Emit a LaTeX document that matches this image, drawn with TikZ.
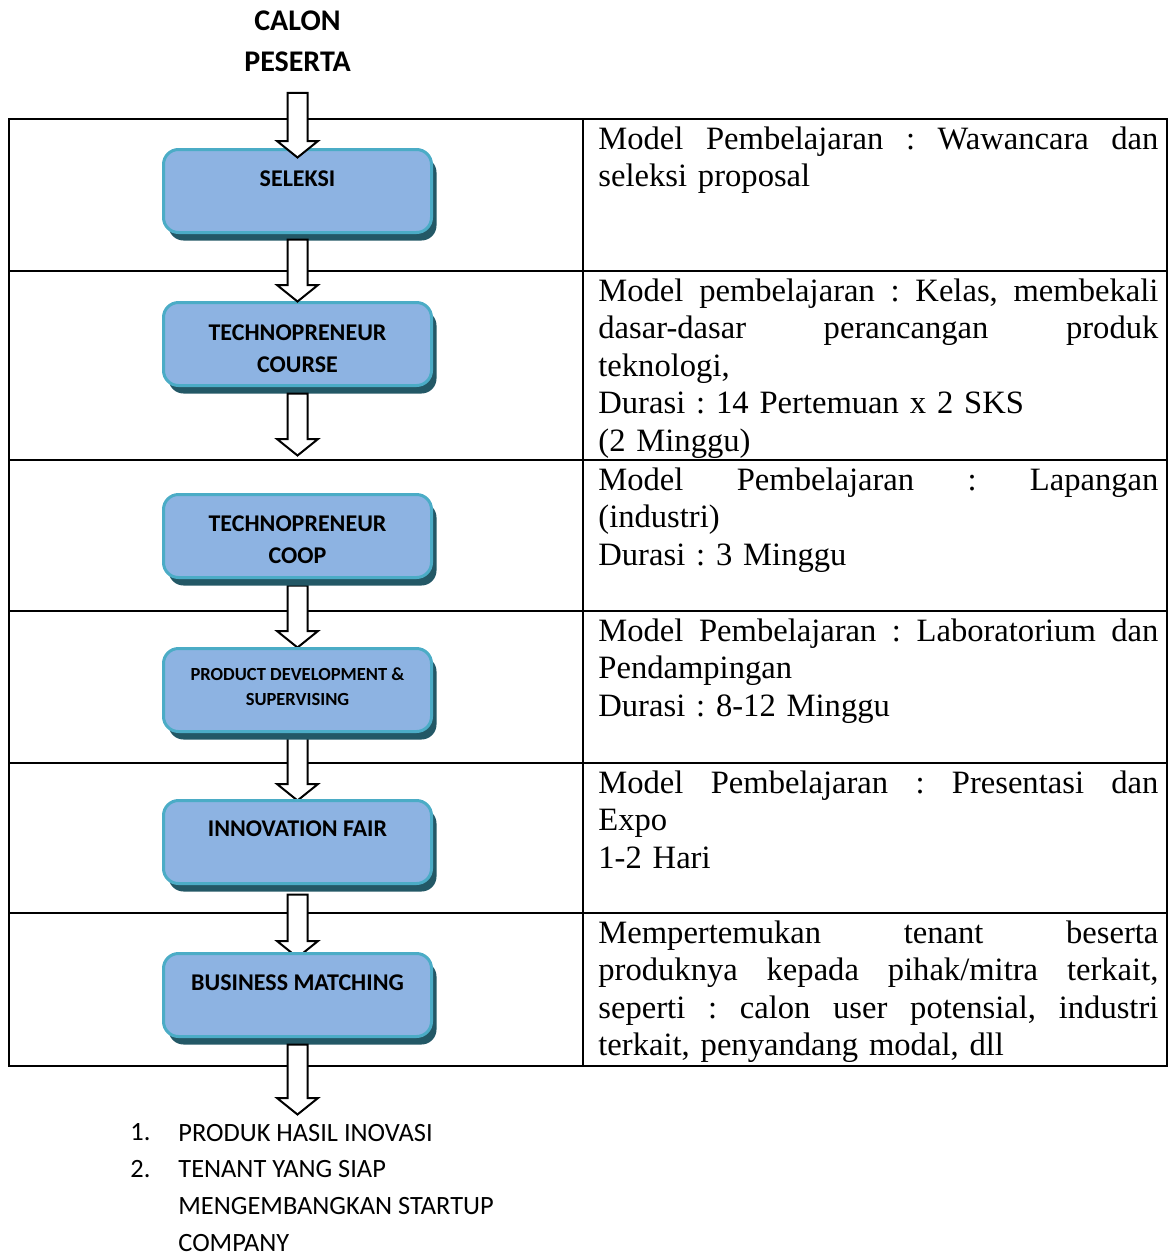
\documentclass[tikz,border=0pt]{standalone}
\usepackage{fontspec}
\setmainfont{Liberation Serif}
\newfontfamily\calibri{Carlito}
\usepackage{tikz}
\usetikzlibrary{calc,shadows}

\definecolor{boxfill}{RGB}{141,179,226}
\definecolor{boxline}{RGB}{75,172,198}
\definecolor{boxshade}{RGB}{35,88,102}

\pgfdeclarelayer{lines}
\pgfdeclarelayer{under}
\pgfsetlayers{lines,under,main}

% one justified line of the right column
\newcommand{\jl}[1]{{\spaceskip=0.25em plus 10em\makebox[280pt][s]{#1}}}
% hollow block arrow from #1 down to the tip #2
\newcommand{\flowarrow}[2]{%
    \draw[bigarrow] let \p1=#1, \p2=#2 in
        (\x1-5pt,\y1) -- (\x1+5pt,\y1) -- (\x1+5pt,\y2+8.25pt) -- (\x1+10.25pt,\y2+8.25pt)
        -- (\x1,\y2) -- (\x1-10.25pt,\y2+8.25pt) -- (\x1-5pt,\y2+8.25pt) -- cycle;
}

\begin{document}
\begin{tikzpicture}[x=0.5pt,y=-0.5pt,
    box/.style={draw=boxline, line width=1.5pt, fill=boxfill, rounded corners=7.5pt,
        minimum width=134pt, minimum height=41.5pt, inner sep=0pt,
        drop shadow={shadow xshift=2.5pt, shadow yshift=-4pt, fill=boxshade, opacity=1}},
    boxlabel/.style={inner sep=0pt, align=center, font=\calibri\bfseries\fontsize{12}{16}\selectfont},
    desc/.style={anchor=north west, inner sep=0pt, text width=280pt, align=left,
        font=\fontsize{16.3}{18.75}\selectfont\frenchspacing},
    listtext/.style={anchor=north west, inner sep=0pt, align=left,
        font=\calibri\fontsize{13.2}{18.5}\selectfont},
    bigarrow/.style={draw=black, fill=white, line width=1pt, line join=miter},
    tableline/.style={line width=1pt}]
    \useasboundingbox (0,0) rectangle (1168,1254);

    % Title
    \node[inner sep=0pt, align=center, font=\calibri\bfseries\fontsize{15}{20.5}\selectfont]
        (calon) at (297.5,41) {CALON\\PESERTA};

    % Table
    \begin{pgfonlayer}{lines}
        \draw[tableline] (9,119) rectangle (1167,1066);
        \draw[tableline] (583,119) -- (583,1066);
        \foreach \y in {271,460,611,763,913} {
            \draw[tableline] (9,\y) -- (1167,\y);
        }
    \end{pgfonlayer}

    % Steps
    \node[box] (seleksi) at (297.5,191) {};
    \node[box] (course) at (297.5,344) {};
    \node[box] (coop) at (297.5,536) {};
    \node[box] (product) at (297.5,690) {};
    \node[box] (fair) at (297.5,842) {};
    \node[box] (matching) at (297.5,995) {};

    \node[boxlabel] (seleksitxt) at (297.5,179) {SELEKSI};
    \node[boxlabel] (coursetxt) at (297.5,349) {TECHNOPRENEUR\\COURSE};
    \node[boxlabel] (cooptxt) at (297.5,540) {TECHNOPRENEUR\\COOP};
    \node[boxlabel, font=\calibri\bfseries\fontsize{9.25}{12.5}\selectfont]
        (producttxt) at (297.5,687) {PRODUCT DEVELOPMENT \&\\SUPERVISING};
    \node[boxlabel] (fairtxt) at (297.5,829) {INNOVATION FAIR};
    \node[boxlabel] (matchingtxt) at (297.5,983) {BUSINESS MATCHING};

    % Arrows
    \flowarrow{($(calon.south)+(0,21)$)}{($(seleksi.north)+(0,9.5)$)}
    \flowarrow{($(seleksi.south)+(0,5.5)$)}{($(course.north)+(0,0.5)$)}
    \flowarrow{($(course.south)+(0,6.5)$)}{($(coop.north)+(0,-37.5)$)}
    \begin{pgfonlayer}{under}
        \flowarrow{($(coop.south)+(0,6.5)$)}{($(product.north)+(0,0.5)$)}
        \flowarrow{($(product.south)+(0,4.5)$)}{($(fair.north)+(0,1.5)$)}
        \flowarrow{($(fair.south)+(0,9.5)$)}{($(matching.north)+(0,5.5)$)}
    \end{pgfonlayer}
    \flowarrow{($(matching.south)+(0,6.5)$)}{($(matching.south)+(0,76.5)$)}

    % Right column
    \node[desc] (seleksidesc) at (598,126) {\jl{Model Pembelajaran : Wawancara dan}\\seleksi proposal};
    \node[desc] (coursedesc) at (598,278) {\jl{Model pembelajaran : Kelas, membekali}\\
        \jl{dasar-dasar perancangan produk}\\teknologi,\\Durasi : 14 Pertemuan x 2 SKS\\(2 Minggu)};
    \node[desc] (coopdesc) at (598,467) {\jl{Model Pembelajaran : Lapangan}\\(industri)\\Durasi : 3 Minggu};
    \node[desc] (productdesc) at (598,618) {\jl{Model Pembelajaran : Laboratorium dan}\\Pendampingan\\Durasi : 8-12 Minggu};
    \node[desc] (fairdesc) at (598,770) {\jl{Model Pembelajaran : Presentasi dan}\\Expo\\1-2 Hari};
    \node[desc] (matchingdesc) at (598,920) {\jl{Mempertemukan tenant beserta}\\
        \jl{produknya kepada pihak/mitra terkait,}\\\jl{seperti : calon user potensial, industri}\\
        terkait, penyandang modal, dll};

    % Output
    \node[listtext] (num1) at (130,1123.5) {1.};
    \node[listtext] (item1) at (178,1123.5) {PRODUK HASIL INOVASI};
    \node[listtext] (num2) at (130,1159.5) {2.};
    \node[listtext] (item2) at (178,1159.5) {TENANT YANG SIAP\\MENGEMBANGKAN STARTUP\\COMPANY};
\end{tikzpicture}
\end{document}
